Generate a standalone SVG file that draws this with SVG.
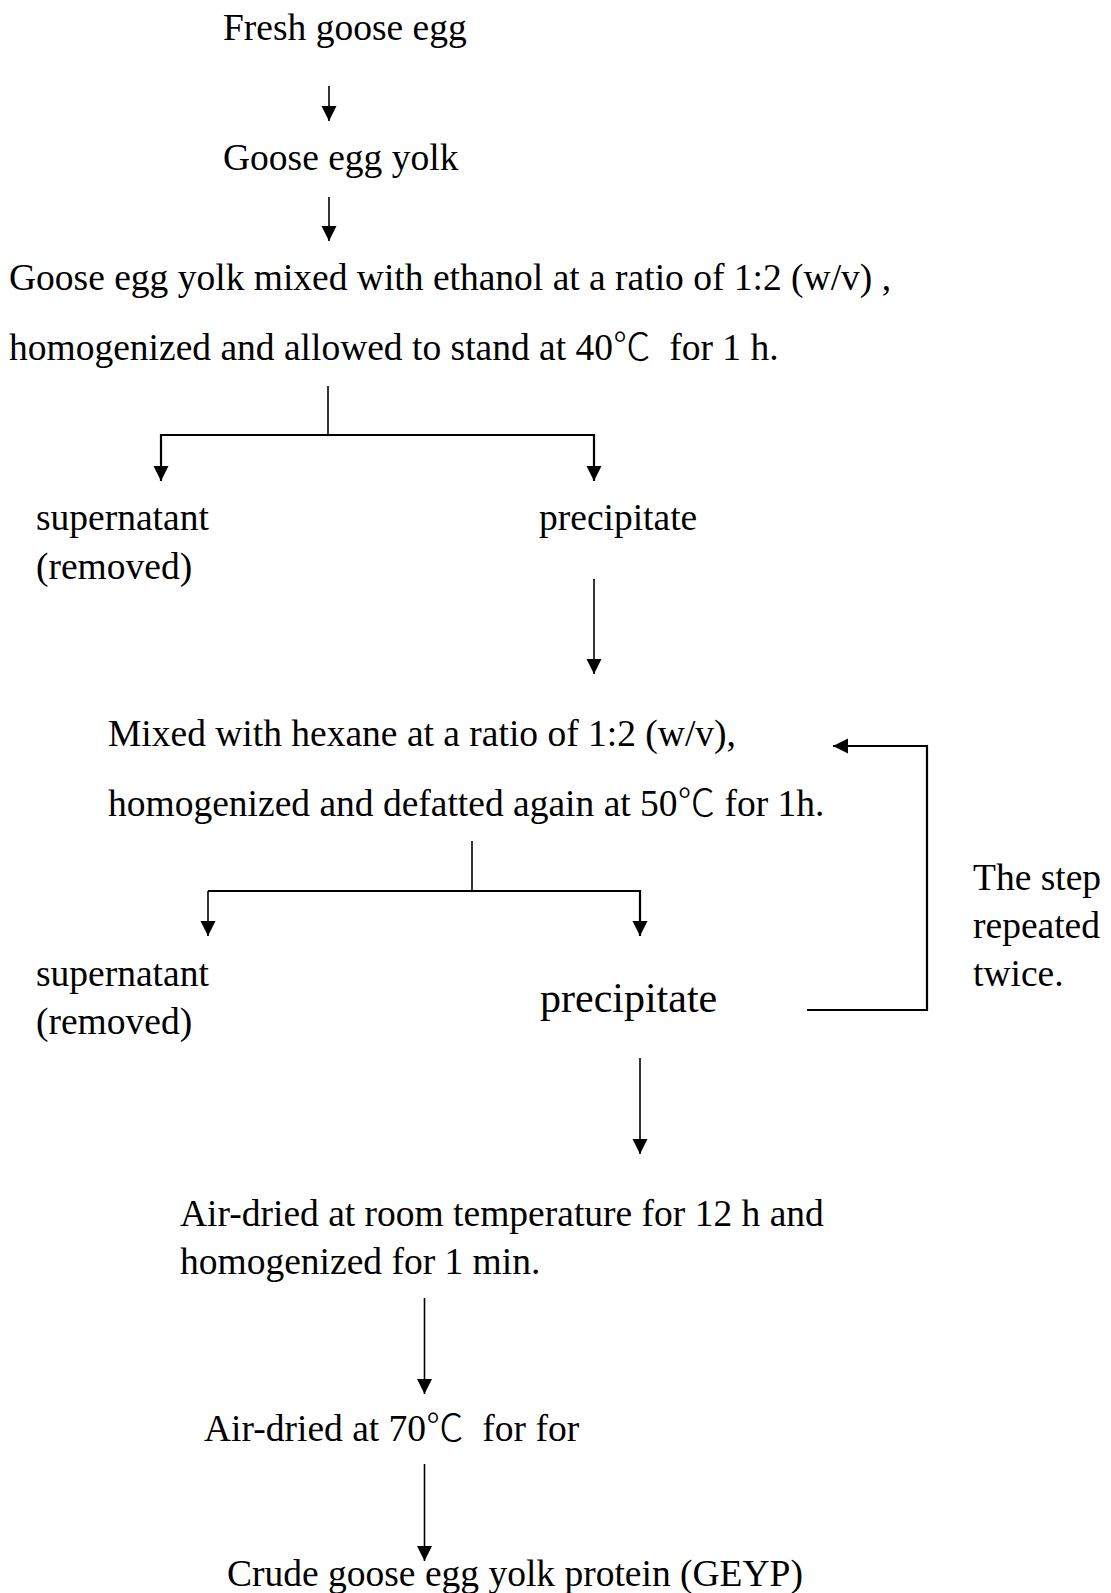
<svg xmlns="http://www.w3.org/2000/svg" width="1111" height="1593" viewBox="0 0 1111 1593">
<style>
text{font-family:"Liberation Serif","Noto Sans CJK SC",serif;font-size:37.5px;fill:#000;white-space:pre}
.big{font-size:42px}
.deg{font-family:"Noto Sans CJK SC","Liberation Serif",sans-serif;font-weight:200}
.c{stroke:#000;stroke-width:1.6;fill:none}
.h{stroke-width:2.2}
</style>
<defs>
<marker id="ah" markerUnits="userSpaceOnUse" markerWidth="16" markerHeight="16" refX="15" refY="7.5" orient="auto">
<path d="M0,0 L15,7.5 L0,15 z" fill="#000"/>
</marker>
</defs>
<rect width="1111" height="1593" fill="#fff"/>
<g id="connectors">
<line class="c" x1="329" y1="86" x2="329" y2="121" marker-end="url(#ah)"/>
<line class="c" x1="329" y1="197" x2="329" y2="241" marker-end="url(#ah)"/>
<line class="c" x1="328" y1="386" x2="328" y2="435"/>
<polyline class="c h" points="161,481 161,435 594,435 594,481" marker-end="url(#ah)"/>
<line class="c" x1="161" y1="435" x2="161" y2="481" marker-end="url(#ah)"/>
<line class="c" x1="594" y1="579" x2="594" y2="674" marker-end="url(#ah)"/>
<line class="c" x1="472" y1="841" x2="472" y2="891"/>
<polyline class="c h" points="208,891 640,891 640,936" marker-end="url(#ah)"/>
<line class="c" x1="208" y1="891" x2="208" y2="936" marker-end="url(#ah)"/>
<polyline class="c h" points="807,1010 927,1010 927,746 833,746" marker-end="url(#ah)"/>
<line class="c" x1="640" y1="1058" x2="640" y2="1154" marker-end="url(#ah)"/>
<line class="c" x1="424.5" y1="1298" x2="424.5" y2="1394" marker-end="url(#ah)"/>
<line class="c" x1="424.5" y1="1464" x2="424.5" y2="1561" marker-end="url(#ah)"/>
</g>
<g id="n1"><text x="223" y="40">Fresh goose egg</text></g>
<g id="n2"><text x="223" y="170">Goose egg yolk</text></g>
<g id="n3"><text x="9" y="290">Goose egg yolk mixed with ethanol at a ratio of 1:2 (w/v) ,</text><text x="9" y="360" xml:space="preserve">homogenized and allowed to stand at 40<tspan class="deg">℃</tspan>  for 1 h.</text></g>
<g id="n4"><text x="36" y="530">supernatant</text><text x="36" y="579">(removed)</text></g>
<g id="n5"><text x="539" y="530">precipitate</text></g>
<g id="n6"><text x="108" y="746">Mixed with hexane at a ratio of 1:2 (w/v),</text><text x="108" y="816">homogenized and defatted again at 50<tspan class="deg">℃</tspan> for 1h.</text></g>
<g id="n7"><text x="36" y="986">supernatant</text><text x="36" y="1034">(removed)</text></g>
<g id="n8"><text class="big" x="540" y="1012">precipitate</text></g>
<g id="n9"><text x="973" y="890">The step</text><text x="973" y="938">repeated</text><text x="973" y="986">twice.</text></g>
<g id="n10"><text x="180" y="1226">Air-dried at room temperature for 12 h and</text><text x="180" y="1274">homogenized for 1 min.</text></g>
<g id="n11"><text x="204" y="1441" xml:space="preserve">Air-dried at 70<tspan class="deg">℃</tspan>  for for</text></g>
<g id="n12"><text x="227" y="1586">Crude goose egg yolk protein (GEYP)</text></g>
</svg>
